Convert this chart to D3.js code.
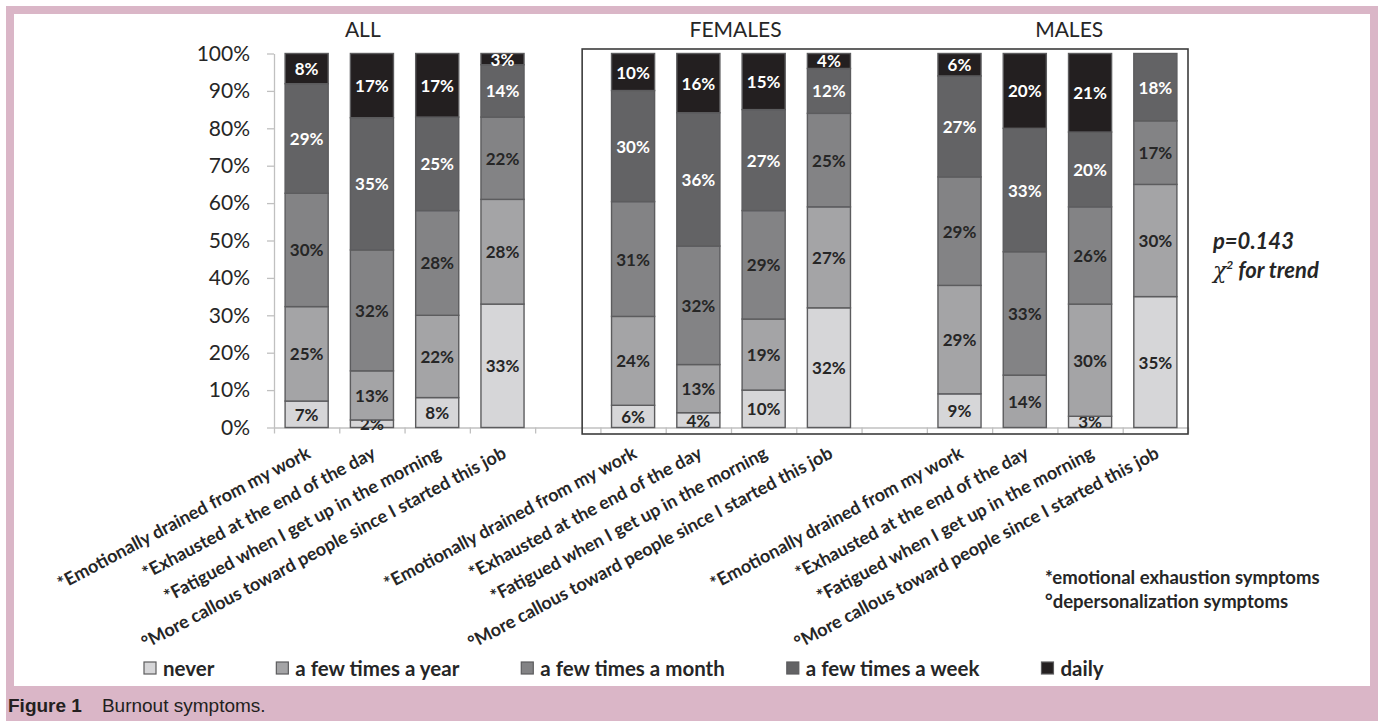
<!DOCTYPE html>
<html lang="en">
<head>
<meta charset="UTF-8">
<title>Burnout symptoms</title>
<style>
  html, body { margin: 0; padding: 0; background: #fff; }
  svg { display: block; }
  svg text { font-family: Lato, 'Open Sans', sans-serif; fill: #262626; }
  .axis path, .axis line { stroke: #c0c0c0; stroke-width: 1.3; }
  .yaxis text { font-size: 21px; }
  .title { font-size: 21px; }
  .seg-label { font-size: 17px; font-weight: bold; }
  .cat-label { font-size: 18px; font-weight: bold; }
  .legend text { font-size: 20.5px; font-weight: bold; }
  .note { font-size: 18.5px; font-weight: bold; }
  .trend { font-size: 22px; font-weight: bold; font-style: italic; }
  .caption { font-family: 'Liberation Sans', Arial, sans-serif; font-size: 19px; fill: #231f20; }
</style>
</head>
<body>
<div id="chart"></div>
<script src="https://d3js.org/d3.v7.min.js"></script>
<script>
// --- data ---
const groups = ["ALL", "FEMALES", "MALES"];
const symptoms = [
  "*Emotionally drained from my work",
  "*Exhausted at the end of the day",
  "*Fatigued when I get up in the morning",
  "°More callous toward people since I started this job"
];
const frequencies = ["never", "a few times a year", "a few times a month", "a few times a week", "daily"];
const frequencyColors = ["#d6d6d8", "#a4a4a6", "#838385", "#636365", "#231f20"];

// rows = symptoms, columns = frequencies (%)
const allValues = [
  [7, 25, 30, 29, 8],
  [2, 13, 32, 35, 17],
  [8, 22, 28, 25, 17],
  [33, 28, 22, 14, 3]
];
const femaleValues = [
  [6, 24, 31, 30, 10],
  [4, 13, 32, 36, 16],
  [10, 19, 29, 27, 15],
  [32, 27, 25, 12, 4]
];
const maleValues = [
  [9, 29, 29, 27, 6],
  [0, 14, 33, 33, 20],
  [3, 30, 26, 20, 21],
  [35, 30, 17, 18, 0]
];

const yTicks = [0, 0.1, 0.2, 0.3, 0.4, 0.5, 0.6, 0.7, 0.8, 0.9, 1];
const footnotes = ["*emotional exhaustion symptoms", "°depersonalization symptoms"];
const pValue = "p=0.143";
const captionBold = "Figure 1";
const captionText = "Burnout symptoms.";

// --- layout ---
const W = 1378, H = 721;
const nSlots = groups.length * 5 - 1;   // 4 bars per group, one empty slot between groups

const svg = d3.select("#chart").append("svg")
    .attr("width", W)
    .attr("height", H);

// pink frame + white panel
svg.append("rect").attr("x", 6).attr("y", 6).attr("width", W - 6).attr("height", H - 6).attr("fill", "#dab6c7");
svg.append("rect").attr("x", 14).attr("y", 14).attr("width", 1356).attr("height", 672).attr("fill", "#fff");

const x = d3.scaleBand()
    .domain(d3.range(nSlots))
    .range([274, 1188])
    .paddingInner(0.34)
    .paddingOuter(0.17);

const xl = d3.scaleLinear().domain([0, nSlots]).range([274, 1188]);

const y = d3.scaleLinear().domain([0, 1]).range([427.5, 53.5]);

const valueSets = [allValues, femaleValues, maleValues];
const rows = [];
valueSets.forEach((vals, gi) => {
  vals.forEach((v, si) => {
    const row = { slot: gi * 5 + si, symptom: symptoms[si], values: v };
    v.forEach((p, k) => row[k] = p);
    rows.push(row);
  });
});

const series = d3.stack()
    .keys(d3.range(frequencies.length))
    .offset(d3.stackOffsetExpand)(rows);

// axes
svg.append("g")
    .attr("class", "axis yaxis")
    .attr("transform", "translate(274,0)")
    .call(d3.axisLeft(y).tickValues(yTicks).tickFormat(d3.format(".0%")).tickSize(7).tickSizeOuter(0).tickPadding(17));

svg.append("g")
    .attr("class", "axis")
    .attr("transform", "translate(0," + y(0) + ")")
    .call(d3.axisBottom(xl).tickValues(d3.range(nSlots + 1)).tickFormat("").tickSize(6).tickSizeOuter(0));

// box round FEMALES and MALES
svg.append("rect")
    .attr("x", xl(4.72))
    .attr("y", y(1) - 4.5)
    .attr("width", xl(nSlots) - xl(4.72))
    .attr("height", y(0) - y(1) + 11)
    .attr("fill", "none")
    .attr("stroke", "#3c3c3c")
    .attr("stroke-width", 1.6);

// bars
const layer = svg.selectAll(".layer")
  .data(series)
  .join("g")
    .attr("class", "layer")
    .attr("fill", d => frequencyColors[d.key]);

layer.selectAll("rect")
  .data(d => d.filter(s => s.data[d.key] > 0))
  .join("rect")
    .attr("x", d => x(d.data.slot))
    .attr("y", d => y(d[1]))
    .attr("width", x.bandwidth())
    .attr("height", d => y(d[0]) - y(d[1]))
    .attr("stroke", "#5c5c5e")
    .attr("stroke-width", 1.4);

layer.selectAll("text")
  .data(d => d.filter(s => s.data[d.key] > 0).map(s => ({ s, key: d.key })))
  .join("text")
    .attr("class", "seg-label")
    .attr("x", d => x(d.s.data.slot) + x.bandwidth() / 2)
    .attr("y", d => (y(d.s[0]) + y(d.s[1])) / 2)
    .attr("text-anchor", "middle")
    .attr("dominant-baseline", "central")
    .style("fill", d => d.key >= 3 ? "#fff" : "#262626")
    .text(d => d.s.data[d.key] + "%");

// category labels (rotated)
svg.selectAll(".cat-label")
  .data(rows)
  .join("text")
    .attr("class", "cat-label")
    .attr("text-anchor", "end")
    .attr("transform", d => "translate(" + (x(d.slot) + x.bandwidth() / 2 + 5) + ",457) rotate(-28)")
    .text(d => d.symptom);

// group titles
const titleAt = [1.36, 7.07, 12.18];
svg.selectAll(".title")
  .data(groups)
  .join("text")
    .attr("class", "title")
    .attr("x", (d, i) => xl(titleAt[i]))
    .attr("y", 37)
    .attr("text-anchor", "middle")
    .text(d => d);

// trend note
svg.append("text").attr("class", "trend").attr("x", 1213).attr("y", 249).text(pValue);
const chi = svg.append("text").attr("class", "trend").attr("x", 1213).attr("y", 278);
chi.append("tspan").style("font-family", "'DejaVu Serif', serif").style("font-weight", "normal").text("χ");
chi.append("tspan").attr("dy", -9).style("font-size", "12px").text("2");
chi.append("tspan").attr("dy", 9).text(" for trend");

// footnotes
svg.selectAll(".note")
  .data(footnotes)
  .join("text")
    .attr("class", "note")
    .attr("x", 1045)
    .attr("y", (d, i) => 584 + i * 24)
    .text(d => d);

// legend
const legend = svg.append("g").attr("class", "legend");
let lx = 144;
frequencies.forEach((f, i) => {
  legend.append("rect")
      .attr("x", lx).attr("y", 662)
      .attr("width", 12).attr("height", 12)
      .attr("fill", frequencyColors[i])
      .attr("stroke", "#5c5c5e").attr("stroke-width", 1.2);
  const t = legend.append("text")
      .attr("x", lx + 19).attr("y", 675.5)
      .text(f);
  lx += 19 + t.node().getComputedTextLength() + 62;
});

// caption
const cap = svg.append("text").attr("class", "caption").attr("x", 8).attr("y", 712);
cap.append("tspan").style("font-weight", "bold").text(captionBold);
cap.append("tspan").attr("dx", 20).text(captionText);
</script>
</body>
</html>
